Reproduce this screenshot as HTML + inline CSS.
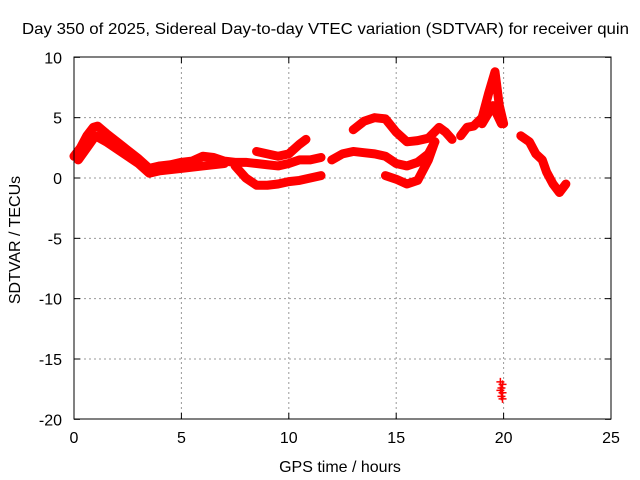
<!DOCTYPE html>
<html><head><meta charset="utf-8"><style>
body{margin:0;background:#fff}
svg{display:block;font-family:"Liberation Sans",sans-serif;font-size:16px}
</style></head><body>
<svg id="c" width="640" height="480">
<text x="22" y="34" textLength="607" lengthAdjust="spacingAndGlyphs">Day 350 of 2025, Sidereal Day-to-day VTEC variation (SDTVAR) for receiver quin</text>
<text x="340" y="472" text-anchor="middle">GPS time / hours</text>
<text transform="translate(20,240) rotate(-90)" text-anchor="middle">SDTVAR / TECUs</text>
<g id="grid"></g><g id="marks"></g>
<rect x="74" y="57" width="537" height="362" fill="none" stroke="#000"/>
</svg>
<script>
const xTicks=[0,5,10,15,20,25];
const yTicks=[-20,-15,-10,-5,0,5,10];
const trackA=[[0,1.8],[0.3,2.5],[0.6,3.5],[0.9,4.2],[1.1,4.3],[1.5,3.7],[2,3.0],[2.5,2.3],[3,1.6],[3.5,0.8],[4,1.0],[4.5,1.1],[5,1.3],[5.5,1.4],[6,1.8],[6.5,1.7],[7,1.4],[7.5,1.3],[8,1.3],[8.5,1.2],[9,1.1],[9.5,1.0],[10,1.2],[10.5,1.5],[11,1.5],[11.5,1.7]];
const trackA2=[[0.2,1.5],[0.6,2.5],[1,3.5],[1.5,3.0],[2,2.4],[2.5,1.8],[3,1.2],[3.5,0.4],[4,0.6],[5,0.8],[6,1.0],[7,1.2]];
const trackB=[[7.5,1.0],[8,0],[8.5,-0.6],[9,-0.6],[9.5,-0.5],[10,-0.3],[10.5,-0.2],[11,0],[11.5,0.2]];
const trackC=[[8.5,2.2],[9.5,1.8],[10,2.0],[10.5,2.8],[10.8,3.2]];
const trackD=[[12,1.5],[12.5,2.0],[13,2.2],[13.5,2.1],[14,2.0],[14.5,1.8],[15,1.2],[15.5,1.0],[16,1.3],[16.5,2.0],[16.8,3.0]];
const trackE=[[13,4.0],[13.5,4.7],[14,5.0],[14.5,4.9],[15,3.8],[15.5,3.0],[16,3.1],[16.5,3.3],[17,4.2],[17.3,3.8],[17.6,3.2]];
const trackF=[[14.5,0.2],[15,-0.1],[15.5,-0.5],[16,-0.2],[16.5,1.5],[16.8,3.0]];
const trackG=[[18,3.5],[18.3,4.2],[18.6,4.3],[19,5.0],[19.3,7.0],[19.6,8.8],[19.8,6.0],[20,4.5]];
const trackG2=[[19,4.5],[19.5,6],[19.9,4.5]];
const trackH=[[20.8,3.5],[21.2,3.0],[21.5,2.0],[21.8,1.5],[22,0.5],[22.3,-0.5],[22.6,-1.2],[22.9,-0.5]];
const outliers=[[19.85,-16.9],[19.95,-17.1],[19.9,-17.4],[19.85,-17.6],[19.95,-17.8],[19.9,-18.1],[19.95,-18.3]];
const tracks=[trackA,trackA2,trackB,trackC,trackD,trackE,trackF,trackG,trackG2,trackH];

const NS="http://www.w3.org/2000/svg";
const X=h=>74+h*537/25, Y=v=>178-v*362/30;
const grid=document.getElementById('grid'), marks=document.getElementById('marks');
function el(t,a,p){const e=document.createElementNS(NS,t);for(const k in a)e.setAttribute(k,a[k]);p.appendChild(e);return e;}
xTicks.forEach(t=>{
  const x=X(t);
  if(t>0&&t<25){const g=el('line',{x1:x,x2:x,y1:57,y2:419,stroke:'#999','stroke-dasharray':'2,3'},grid);
  
  }
  el('line',{x1:x,x2:x,y1:419,y2:413,stroke:'#000'},grid);
  el('line',{x1:x,x2:x,y1:57,y2:63,stroke:'#000'},grid);
  const l=el('text',{x:x,y:443,'text-anchor':'middle'},grid);l.textContent=t;
  
  
});
yTicks.forEach(t=>{
  const y=Y(t);
  if(t>-20&&t<10){const g=el('line',{x1:74,x2:611,y1:y,y2:y,stroke:'#999','stroke-dasharray':'2,3'},grid);
  
  }
  el('line',{x1:74,x2:80,y1:y,y2:y,stroke:'#000'},grid);
  el('line',{x1:611,x2:605,y1:y,y2:y,stroke:'#000'},grid);
  const l=el('text',{x:62,y:y+6,'text-anchor':'end'},grid);l.textContent=t;
  
  
});
function plus(h,v){
  const x=X(h),y=Y(v);
  const p=el('path',{d:`M${x-4},${y}H${x+4}M${x},${y-4}V${y+4}`,stroke:'#f00','stroke-width':1.5},marks);
  
  
}
tracks.forEach(tr=>{
  const pl=el('polyline',{points:tr.map(p=>X(p[0])+','+Y(p[1])).join(' '),fill:'none',stroke:'#f00','stroke-width':9,'stroke-linejoin':'round','stroke-linecap':'round'},marks);
  
  
  tr.forEach(p=>plus(p[0],p[1]));
});
outliers.forEach(p=>plus(p[0],p[1]));
</script>
</body></html>
